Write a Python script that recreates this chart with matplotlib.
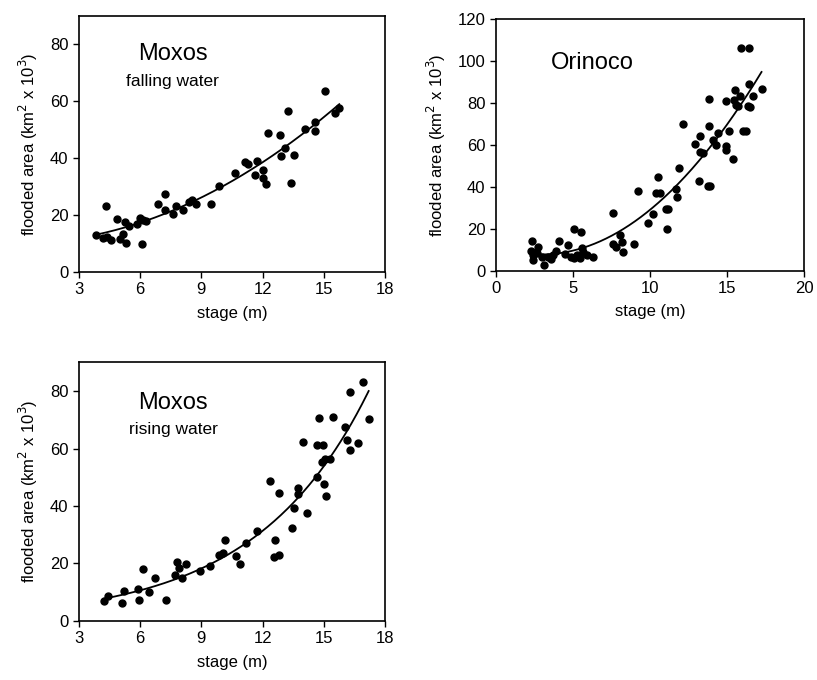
import numpy as np
import matplotlib
matplotlib.use('Agg')
import matplotlib.pyplot as plt

plt.rcParams['font.family'] = ['Liberation Sans', 'DejaVu Sans']

# Moxos, falling water
fall_x = [3.83, 4.19, 4.32, 4.35, 4.55, 4.85, 5.02, 5.17, 5.25, 5.30, 5.47, 5.83,
          5.99, 6.10, 6.15, 6.28, 6.89, 7.23, 7.23, 7.62, 7.76, 8.11, 8.37, 8.56,
          8.73, 9.49, 9.85, 10.63, 11.14, 11.30, 11.63, 11.71, 12.0, 12.0, 12.17,
          12.25, 12.85, 12.88, 13.09, 13.27, 13.37, 13.55, 14.08, 14.57, 14.57,
          15.06, 15.55, 15.76]
fall_y = [12.9, 12.1, 23.3, 12.2, 11.1, 18.6, 11.7, 13.2, 17.7, 10.2, 16.3, 16.7,
          18.8, 9.7, 18.1, 17.8, 23.8, 27.5, 21.9, 20.5, 23.3, 21.6, 24.6, 25.2,
          24.0, 24.0, 30.2, 34.9, 38.5, 37.8, 34.2, 38.9, 35.7, 33.1, 31.0,
          48.8, 48.2, 40.6, 43.6, 56.5, 31.1, 41.2, 50.3, 52.5, 49.4,
          63.5, 55.8, 57.7]

# Orinoco
ori_x = [2.33, 2.27, 2.44, 2.40, 2.76, 2.70, 2.98, 3.13, 3.41, 3.56, 3.69, 3.91,
         4.10, 4.49, 4.70, 4.85, 5.07, 5.07, 5.24, 5.46, 5.50, 5.57, 5.68, 5.89,
         6.28, 7.62, 7.58, 7.79, 8.05, 8.16, 8.27, 8.96, 9.24, 9.88, 10.21, 10.49,
         10.38, 10.64, 11.03, 11.20, 11.12, 11.72, 11.68, 11.89, 12.11, 12.91,
         13.17, 13.27, 13.23, 13.45, 13.77, 13.92, 13.84, 13.84, 14.10, 14.31,
         14.40, 14.96, 14.96, 14.92, 15.13, 15.35, 15.43, 15.54, 15.56, 15.71,
         15.86, 15.90, 16.03, 16.25, 16.39, 16.43, 16.37, 16.48, 16.69, 17.23]
ori_y = [14.2, 9.5, 7.5, 5.1, 11.5, 8.6, 6.7, 2.7, 6.7, 5.5, 7.5, 9.5,
         14.3, 8.0, 12.3, 6.7, 5.9, 19.9, 7.5, 5.9, 18.3, 10.7, 9.1, 7.5,
         6.7, 27.4, 12.6, 11.5, 17.0, 13.8, 8.8, 12.6, 38.0, 22.9, 27.1, 44.6,
         36.9, 36.9, 29.5, 29.5, 19.9, 34.9, 39.0, 48.9, 70.0, 60.5,
         42.8, 64.0, 56.8, 56.3, 40.6, 40.6, 82.0, 69.1, 62.4, 60.0,
         65.8, 59.5, 57.6, 81.0, 66.4, 53.2, 81.5, 86.3, 79.1, 78.3,
         83.4, 106.1, 66.4, 66.4, 89.1, 106.1, 78.6, 78.0, 83.4, 86.6]

# Moxos, rising water
rise_x = [4.24, 4.43, 5.12, 5.20, 5.91, 5.96, 6.12, 6.42, 6.74, 7.26, 7.71, 7.79,
          7.90, 8.05, 8.25, 8.93, 9.42, 9.88, 10.04, 10.17, 10.68, 10.91, 11.19,
          11.71, 12.38, 12.59, 12.57, 12.80, 12.80, 13.43, 13.56, 13.74, 13.74,
          14.00, 14.16, 14.68, 14.75, 14.68, 14.94, 14.91, 15.06, 14.99, 15.09,
          15.30, 15.43, 16.04, 16.15, 16.28, 16.31, 16.66, 16.94, 17.20]
rise_y = [7.0, 8.7, 6.1, 10.5, 11.2, 7.3, 18.0, 10.0, 14.9, 7.3, 15.8, 20.6,
          18.3, 14.9, 19.8, 17.5, 19.2, 22.9, 23.5, 28.2, 22.6, 19.8, 27.2,
          31.3, 48.7, 28.2, 22.3, 23.1, 44.6, 32.2, 39.4, 46.2, 44.2,
          62.3, 37.7, 50.2, 70.5, 61.4, 61.1, 55.4, 56.2, 47.6, 43.5,
          56.2, 71.1, 67.4, 63.0, 59.5, 79.8, 61.8, 83.3, 70.3]

ylab = 'flooded area (km$^2$ x 10$^3$)'

fig = plt.figure(figsize=(8.17, 6.80), dpi=100)
ax1 = fig.add_axes([0.0967, 0.600, 0.3745, 0.377])
ax2 = fig.add_axes([0.6067, 0.602, 0.3777, 0.370])
ax3 = fig.add_axes([0.0967, 0.087, 0.3745, 0.380])

# last item: kind of trend line
panels = [
    (ax1, fall_x, fall_y, (3, 18), range(3, 19, 3), (0, 90), range(0, 81, 20), 'poly'),
    (ax2, ori_x, ori_y, (0, 20), range(0, 21, 5), (0, 120), range(0, 121, 20), 'poly'),
    (ax3, rise_x, rise_y, (3, 18), range(3, 19, 3), (0, 90), range(0, 81, 20), 'exp'),
]

for ax, xs, ys, xl, xt, yl, yt, kind in panels:
    xs = np.array(xs)
    ys = np.array(ys)
    ax.plot(xs, ys, 'o', color='black', ms=5, mec='black')
    xx = np.linspace(xs.min(), xs.max(), 200)
    if kind == 'exp':
        c = np.polyfit(xs, np.log(ys), 1)
        yy = np.exp(np.polyval(c, xx))
    else:
        c = np.polyfit(xs, ys, 2)
        yy = np.polyval(c, xx)
    ax.plot(xx, yy, 'k-', lw=1.3)
    ax.set_xlim(*xl)
    ax.set_ylim(*yl)
    ax.set_xticks(list(xt))
    ax.set_yticks(list(yt))
    ax.tick_params(direction='out', length=4, width=1, labelsize=12)
    for s in ax.spines.values():
        s.set_linewidth(1.2)
    ax.set_xlabel('stage (m)', fontsize=12, labelpad=6)
    ax.set_ylabel(ylab, fontsize=12, labelpad=7)

ax1.text(7.6, 76.7, 'Moxos', fontsize=17, ha='center', va='center')
ax1.text(7.6, 67, 'falling water', fontsize=12.5, ha='center', va='center')
ax2.text(6.28, 99, 'Orinoco', fontsize=17, ha='center', va='center')
ax3.text(7.62, 75.8, 'Moxos', fontsize=17, ha='center', va='center')
ax3.text(7.62, 66.5, 'rising water', fontsize=12.5, ha='center', va='center')

fig.savefig('out.png', dpi=100)
